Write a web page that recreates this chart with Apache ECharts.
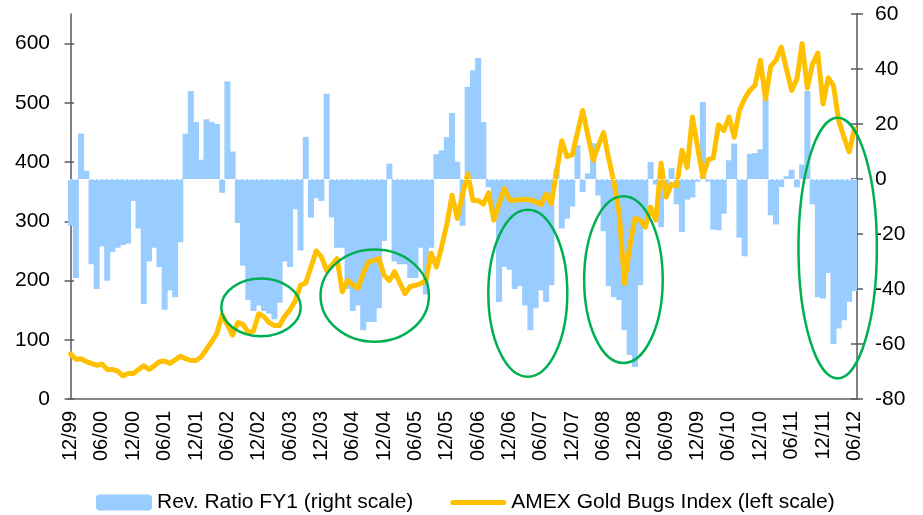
<!DOCTYPE html>
<html>
<head>
<meta charset="utf-8">
<script src="https://cdn.jsdelivr.net/npm/echarts@6/dist/echarts.min.js"></script>
<style>
html,body{margin:0;padding:0;background:#fff;}
#chart{width:923px;height:515px;}
</style>
</head>
<body>
<div id="chart"></div>
<script>
// ---- categories (monthly, 12/99 .. 06/12) ----
const months = [
  "12/99",
  "01/00","02/00","03/00","04/00","05/00","06/00","07/00","08/00","09/00","10/00","11/00","12/00",
  "01/01","02/01","03/01","04/01","05/01","06/01","07/01","08/01","09/01","10/01","11/01","12/01",
  "01/02","02/02","03/02","04/02","05/02","06/02","07/02","08/02","09/02","10/02","11/02","12/02",
  "01/03","02/03","03/03","04/03","05/03","06/03","07/03","08/03","09/03","10/03","11/03","12/03",
  "01/04","02/04","03/04","04/04","05/04","06/04","07/04","08/04","09/04","10/04","11/04","12/04",
  "01/05","02/05","03/05","04/05","05/05","06/05","07/05","08/05","09/05","10/05","11/05","12/05",
  "01/06","02/06","03/06","04/06","05/06","06/06","07/06","08/06","09/06","10/06","11/06","12/06",
  "01/07","02/07","03/07","04/07","05/07","06/07","07/07","08/07","09/07","10/07","11/07","12/07",
  "01/08","02/08","03/08","04/08","05/08","06/08","07/08","08/08","09/08","10/08","11/08","12/08",
  "01/09","02/09","03/09","04/09","05/09","06/09","07/09","08/09","09/09","10/09","11/09","12/09",
  "01/10","02/10","03/10","04/10","05/10","06/10","07/10","08/10","09/10","10/10","11/10","12/10",
  "01/11","02/11","03/11","04/11","05/11","06/11","07/11","08/11","09/11","10/11","11/11","12/11",
  "01/12","02/12","03/12","04/12","05/12","06/12"
];

// ---- Rev. Ratio FY1 (right scale) ----
const revRatio = [
  -17,-36,16.5,3,-31,-40,-24.5,-37,-26.5,-25,
  -24,-23.5,-8,-18,-45.5,-30,-25,-32,-47.5,-40.5,
  -43,-23,16.5,32,20.7,7,21.7,20.7,20,-5,
  35.5,10,-16,-31.5,-44,-48,-46,-48,-49,-51,
  -45,-30,-32,-11,-26,15.3,-14,-7,-8,31,
  -14,-25,-25,-40,-48,-46,-55,-52,-52,-47,
  -22.5,5.6,-30,-31,-31,-36,-36,-25,-42,-25,
  9,10.4,15.2,24,6.3,-17,33.5,39.5,44,20.7,
  -3,-15,-44.7,-32,-33,-40,-39,-46,-55,-47,
  -40.5,-44.7,-38.6,3.7,-18,-14.4,-10,12.3,-4.7,2,
  13,-6,-19,-39,-43,-44,-55,-64,-68.4,-38.6,
  -16,6.2,-2,-17.5,-5,3.9,-9.2,-19.3,-7.5,-6.7,
  -1,28,-1,-18.4,-18.6,-12.6,6.8,12.9,-21.3,-28.1,
  9.2,9.4,10.8,29.2,-13.2,-16.5,-2.9,1,3.4,-3,
  5.3,32,-9.2,-43,-43.5,-34.2,-60,-54.4,-51.4,-44.7,-40.7
];

// ---- AMEX Gold Bugs Index (left scale) ----
const goldBugs = [
  76,67,68,63,60,57,59,50,50,47,
  39,43,43,50,56,50,56,63,64,60,
  66,72,68,65,65,71,84,97,111,142,
  125,108,129,126,112,115,144,139,129,124,
  124,140,151,166,192,196,223,250,240,217,
  226,237,181,200,193,187,212,231,234,237,
  209,200,215,196,178,190,192,195,200,246,
  223,257,295,344,305,345,380,335,335,329,
  348,302,330,355,336,335,337,337,336,333,
  328,346,330,383,436,409,412,450,487,445,
  403,428,450,405,365,313,195,257,305,302,
  290,324,302,398,341,363,360,420,391,476,
  425,375,404,407,463,453,476,442,487,507,
  521,530,572,507,562,572,594,557,521,540,
  600,525,566,584,498,542,529,470,442,417,
  456
];

// ---- tick labels ----
const leftTicks = [0,100,200,300,400,500,600];
const rightTicks = [-80,-60,-40,-20,0,20,40,60];

// ---- annotation ellipses (data units: month index, left-scale value, half-width in months, half-height in left units) ----
const ellipseMonth  = [36.44, 58.2, 87.5, 105.8, 146.8];
const ellipseLevel  = [154.7, 174.4, 178.7, 201.4, 254.8];
const ellipseHalfW  = [7.6, 10.37, 7.56, 7.52, 7.5];
const ellipseHalfH  = [48.6, 77.8, 141, 140.7, 220];

const barName = 'Rev. Ratio FY1 (right scale)';
const lineName = 'AMEX Gold Bugs Index (left scale)';
const FONT = '"Liberation Sans", Arial, sans-serif';

const ellipseData = ellipseMonth.map((m, i) => [m, ellipseLevel[i], ellipseHalfW[i], ellipseHalfH[i]]);

const chart = echarts.init(document.getElementById('chart'), null, {renderer: 'canvas'});

const axisColor = '#595959';
const barColor = '#99CCFF';
const lineColor = '#FFC000';

chart.setOption({
  animation: false,
  backgroundColor: '#fff',
  textStyle: {fontFamily: FONT},
  grid: {left: 68, right: 66, top: 14, bottom: 116, containLabel: false},
  legend: {
    left: 91, top: 487,
    itemWidth: 56, itemHeight: 16, itemGap: 37,
    symbolKeepAspect: true,
    textStyle: {fontSize: 21, color: '#000', fontFamily: FONT},
    data: [
      {name: barName, icon: 'roundRect'},
      {name: lineName, icon: 'path://M2.5,0H53.5A2.5,2.5 0 0 1 53.5,5H2.5A2.5,2.5 0 0 1 2.5,0Z', itemStyle: {color: lineColor}}
    ]
  },
  xAxis: [
    {
      type: 'category', data: months, boundaryGap: true,
      axisLine: {lineStyle: {color: '#868686', width: 2}},
      axisTick: {show: false},
      axisLabel: {interval: 5, rotate: 90, fontSize: 20, color: '#000', margin: 12, fontFamily: FONT},
      splitLine: {show: false}
    },
    {type: 'value', min: -0.5, max: months.length - 0.5, show: false}
  ],
  yAxis: [
    {
      type: 'value', position: 'left', min: 0, max: 650, interval: 100,
      axisLine: {show: true, lineStyle: {color: axisColor, width: 1.5}},
      axisTick: {show: true, length: 6, customValues: leftTicks, lineStyle: {color: axisColor, width: 1.5}},
      axisLabel: {customValues: leftTicks, fontSize: 21, color: '#000', margin: 18, fontFamily: FONT,
        formatter: v => (leftTicks.indexOf(v) >= 0 ? String(v) : '')},
      splitLine: {show: false}
    },
    {
      type: 'value', position: 'right', min: -80, max: 60, interval: 20,
      axisLine: {show: true, lineStyle: {color: axisColor, width: 1.5}},
      axisTick: {show: true, length: 6, customValues: rightTicks, lineStyle: {color: axisColor, width: 1.5}},
      axisLabel: {customValues: rightTicks, fontSize: 21, color: '#000', margin: 18, fontFamily: FONT},
      splitLine: {show: false}
    },
    {
      type: 'value', position: 'left', min: 0, max: 650, interval: 100,
      axisLine: {show: false},
      axisTick: {show: true, inside: true, length: 6, customValues: leftTicks, lineStyle: {color: axisColor, width: 1.5}},
      axisLabel: {show: false}, splitLine: {show: false}
    },
    {
      type: 'value', position: 'right', min: -80, max: 60, interval: 20,
      axisLine: {show: false},
      axisTick: {show: true, inside: true, length: 6, customValues: rightTicks, lineStyle: {color: axisColor, width: 1.5}},
      axisLabel: {show: false}, splitLine: {show: false}
    }
  ],
  series: [
    {
      name: barName, type: 'bar', xAxisIndex: 0, yAxisIndex: 1,
      data: revRatio, barWidth: 6,
      itemStyle: {color: barColor},
      markLine: {
        silent: true, symbol: 'none', label: {show: false},
        lineStyle: {color: '#ffffff', type: [3, 2], width: 1, opacity: 0.9},
        data: [{yAxis: 0}]
      },
      z: 2
    },
    {
      name: lineName, type: 'line', xAxisIndex: 0, yAxisIndex: 0,
      data: goldBugs, symbol: 'none', showSymbol: false,
      lineStyle: {color: lineColor, width: 5, join: 'round', cap: 'round'},
      itemStyle: {color: lineColor},
      z: 3
    },
    {
      type: 'custom', xAxisIndex: 1, yAxisIndex: 0, clip: false, silent: true, z: 5,
      data: ellipseData,
      encode: {x: 0, y: 1},
      renderItem: function (params, api) {
        const m = api.value(0), v = api.value(1), hw = api.value(2), hh = api.value(3);
        const c = api.coord([m, v]);
        const p = api.coord([m + hw, v + hh]);
        return {
          type: 'ellipse',
          shape: {cx: c[0], cy: c[1], rx: Math.abs(p[0] - c[0]), ry: Math.abs(p[1] - c[1])},
          style: {fill: null, stroke: '#00B050', lineWidth: 2.5}
        };
      }
    }
  ]
});
</script>
</body>
</html>
